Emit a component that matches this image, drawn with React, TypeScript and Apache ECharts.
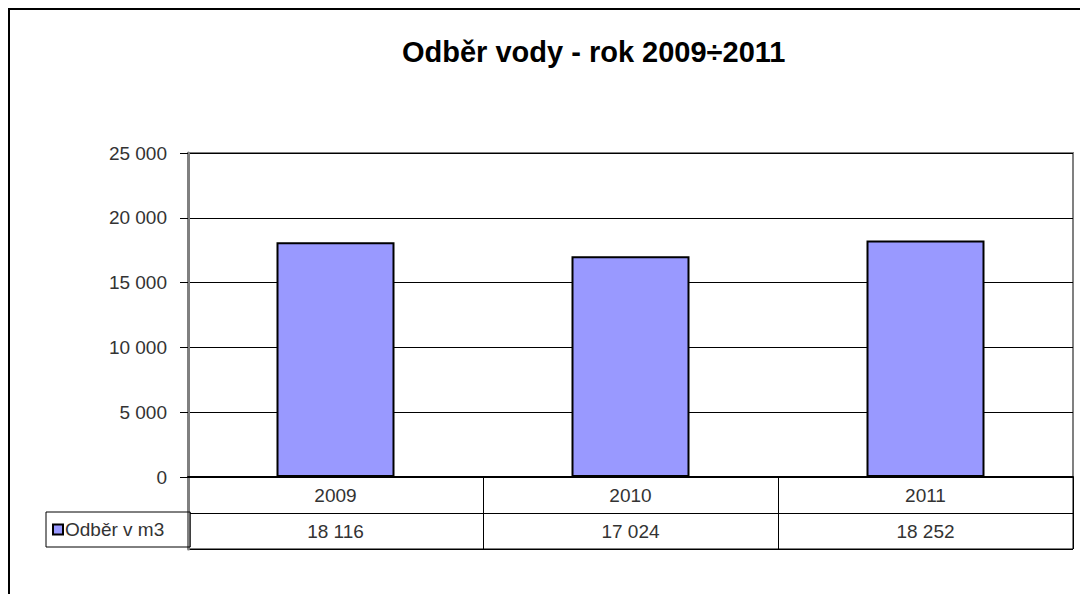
import React, { useEffect, useRef } from "react";
import * as echarts from "echarts";

const titleText = "Odběr vody - rok 2009÷2011";
const seriesName = "Odběr v m3";
const categories = ["2009", "2010", "2011"];
const values = [18116, 17024, 18252];
const yTicks = { min: 0, max: 25000, interval: 5000 };
const tableRows = ["values", "years"];

const FONT = '"Liberation Sans", Arial, sans-serif';
const fmt = (v: number) => String(v).replace(/\B(?=(\d{3})+(?!\d))/g, " ");

export default function App() {
  const ref = useRef<HTMLDivElement>(null);
  useEffect(() => {
    if (!ref.current) return;
    const chart = echarts.init(ref.current, null, { renderer: "svg" });
    const cellData: number[][] = [];
    const cellText: string[] = [];
    categories.forEach((c, i) => {
      cellData.push([i, 1]);
      cellText.push(c);
    });
    values.forEach((v, i) => {
      cellData.push([i, 0]);
      cellText.push(fmt(v));
    });
    chart.setOption({
      animation: false,
      backgroundColor: "#ffffff",
      title: {
        text: titleText,
        left: 392,
        top: 27,
        padding: 0,
        textStyle: { fontFamily: FONT, fontSize: 29, fontWeight: "bold", color: "#000" },
      },
      legend: {
        data: [seriesName],
        left: 36,
        top: 502,
        orient: "horizontal",
        padding: [8, 26, 8, 6],
        borderColor: "#000",
        borderWidth: 1,
        borderRadius: 0,
        icon: "rect",
        itemWidth: 10,
        itemHeight: 10,
        itemStyle: { borderColor: "#000", borderWidth: 2 },
        textStyle: { fontFamily: FONT, fontSize: 19, color: "#333", padding: [0, 0, 0, -3] },
        selectedMode: false,
      },
      grid: [
        { left: 178, top: 143, right: 15, bottom: 117, show: true, borderColor: "#808080", borderWidth: 2, containLabel: false },
        { left: 178, top: 467, right: 15, height: 72, show: true, borderColor: "#000", borderWidth: 1, containLabel: false },
      ],
      xAxis: [
        {
          type: "category",
          gridIndex: 0,
          data: categories,
          axisLine: { show: true, lineStyle: { color: "#000", width: 2 } },
          axisTick: { show: false },
          axisLabel: { show: false },
          splitLine: { show: false },
        },
        {
          type: "category",
          gridIndex: 1,
          data: categories,
          boundaryGap: true,
          axisLine: { show: false },
          axisTick: { show: false },
          axisLabel: { show: false },
          splitLine: { show: true, interval: 0, lineStyle: { color: "#000", width: 1 } },
        },
      ],
      yAxis: [
        {
          type: "value",
          gridIndex: 0,
          min: yTicks.min,
          max: yTicks.max,
          interval: yTicks.interval,
          axisLine: { show: true, lineStyle: { color: "#808080", width: 3 } },
          axisTick: { show: true, length: 8, lineStyle: { color: "#000", width: 1 } },
          axisLabel: { margin: 21, fontFamily: FONT, fontSize: 19, color: "#333", formatter: (v: number) => fmt(v) },
          splitLine: { show: true, lineStyle: { color: "#000", width: 1 } },
        },
        {
          type: "category",
          gridIndex: 1,
          data: tableRows,
          boundaryGap: true,
          axisLine: { show: true, lineStyle: { color: "#808080", width: 3 } },
          axisTick: { show: false },
          axisLabel: { show: false },
          splitLine: { show: true, interval: 0, lineStyle: { color: "#000", width: 1 } },
        },
      ],
      series: [
        {
          name: seriesName,
          type: "bar",
          xAxisIndex: 0,
          yAxisIndex: 0,
          data: values,
          barWidth: "40%",
          itemStyle: { color: "#9999FF", borderColor: "#000", borderWidth: 2 },
          z: 3,
        },
        {
          name: "table",
          type: "custom",
          xAxisIndex: 1,
          yAxisIndex: 1,
          data: cellData,
          renderItem: (params: any, api: any) => {
            const p = api.coord([api.value(0), api.value(1)]);
            return {
              type: "text",
              x: p[0],
              y: p[1],
              style: {
                text: cellText[params.dataIndex],
                align: "center",
                verticalAlign: "middle",
                fill: "#333",
                fontFamily: FONT,
                fontSize: 19,
              },
            };
          },
        },
      ],
    });
    return () => chart.dispose();
  }, []);
  return (
    <div
      style={{
        width: 1080,
        height: 586,
        boxSizing: "border-box",
        borderTop: "2px solid #000",
        borderLeft: "2px solid #000",
        overflow: "hidden",
      }}
    >
      <div ref={ref} style={{ width: 1078, height: 584 }} />
    </div>
  );
}
